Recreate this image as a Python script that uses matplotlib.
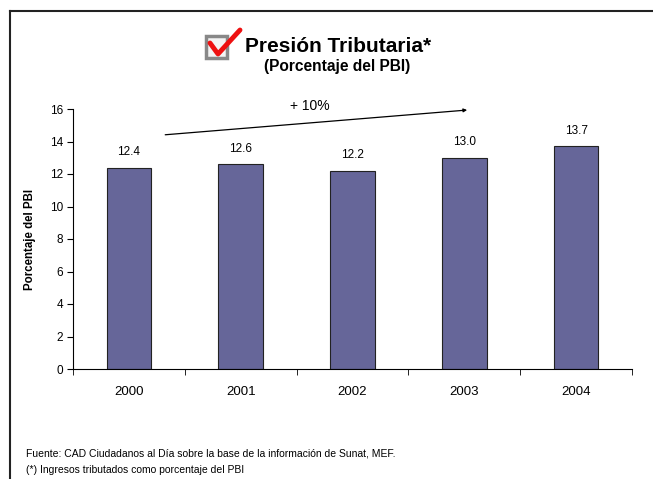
import matplotlib
matplotlib.use("Agg")
import matplotlib.pyplot as plt
from matplotlib.patches import Rectangle
from matplotlib.lines import Line2D

years = ["2000", "2001", "2002", "2003", "2004"]
values = [12.4, 12.6, 12.2, 13.0, 13.7]
value_labels = ["12.4", "12.6", "12.2", "13.0", "13.7"]
yticks = [0, 2, 4, 6, 8, 10, 12, 14, 16]
title = "Presión Tributaria*"
subtitle = "(Porcentaje del PBI)"
ylabel = "Porcentaje del PBI"
growth_label = "+ 10%"
footer1 = "Fuente: CAD Ciudadanos al Día sobre la base de la información de Sunat, MEF."
footer2 = "(*) Ingresos tributados como porcentaje del PBI"

plt.rcParams['font.family'] = ['Liberation Sans', 'DejaVu Sans']

W, H = 653, 479
fig = plt.figure(figsize=(W/100, H/100), dpi=100)

# frame lines (top and left)
fig.add_artist(Line2D([10/W, 10/W], [0, 1-11/H], color='#222222', lw=1.5, transform=fig.transFigure))
fig.add_artist(Line2D([10/W, 1], [1-11/H, 1-11/H], color='#222222', lw=1.5, transform=fig.transFigure))

ax = fig.add_axes([73/W, 1-369/H, 559/W, 260/H])
x = list(range(len(years)))
ax.bar(x, values, width=0.4, color='#666699', edgecolor='#222222', linewidth=0.8)
for xi, v, lab in zip(x, values, value_labels):
    ax.text(xi, v + 0.6, lab, ha='center', va='bottom', fontsize=8.5)

ax.set_xlim(-0.5, len(years) - 0.5)
ax.set_ylim(0, 16)
ax.set_yticks(yticks)
ax.set_yticklabels([str(t) for t in yticks], fontsize=8.5)
ax.set_xticks(x)
ax.set_xticklabels(years, fontsize=9.5)
ax.tick_params(axis='x', length=0, pad=12)
ax.set_xticks([i - 0.5 for i in range(len(years) + 1)], minor=True)
ax.tick_params(axis='x', which='minor', length=4, direction='out')
ax.tick_params(axis='y', length=4, direction='out', pad=3)
for s in ['top', 'right']:
    ax.spines[s].set_visible(False)
ax.set_ylabel(ylabel, fontsize=8.3, fontweight='bold', labelpad=10)

# growth arrow
ax.annotate('', xy=(3.05, 15.95), xytext=(0.3, 14.4),
            arrowprops=dict(arrowstyle='-|>', color='black', lw=0.9, mutation_scale=5),
            annotation_clip=False)
ax.text(1.62, 15.75, growth_label, ha='center', va='bottom', fontsize=10)

# title
fig.text(245/W, 1-46/H, title, fontsize=15, fontweight='bold', ha='left', va='center')
fig.text(337/W, 1-67/H, subtitle, fontsize=11.2, fontweight='bold', ha='center', va='center')

# checkbox icon
fig.add_artist(Rectangle((206/W, 1-58/H), 21/W, 22/H, transform=fig.transFigure,
                         facecolor='#f4f4f4', edgecolor='#888888', lw=2.5))
fig.add_artist(Line2D([210/W, 218/W, 240/W], [1-43/H, 1-54/H, 1-30/H],
                      color='#ee1111', lw=3.5, transform=fig.transFigure, solid_capstyle='round'))

# footer
fig.text(26/W, 1-453/H, footer1, fontsize=7.5, ha='left', va='center')
fig.text(26/W, 1-470/H, footer2, fontsize=7.5, ha='left', va='center')

fig.savefig("out.png", dpi=100)
